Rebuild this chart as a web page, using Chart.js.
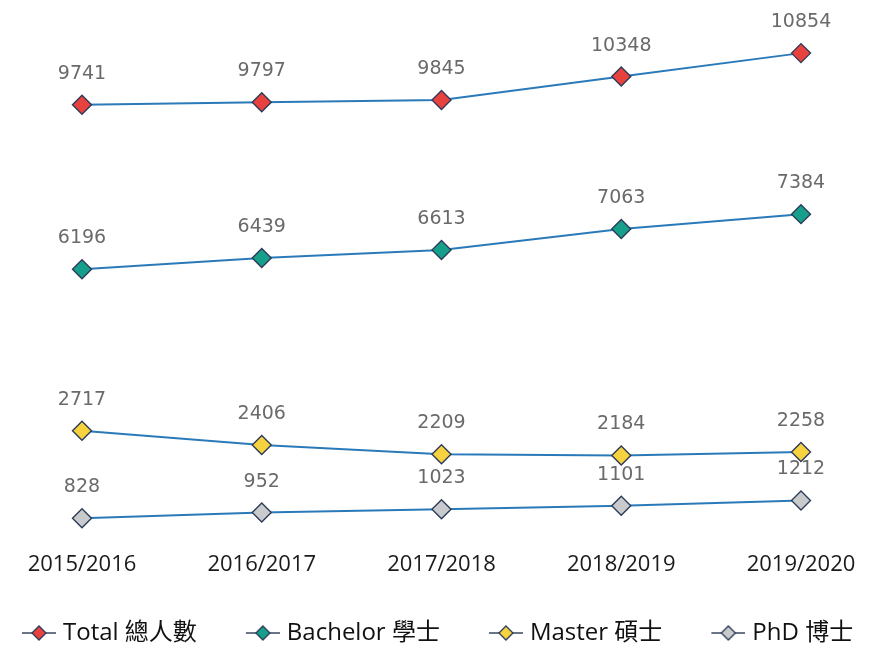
<!DOCTYPE html>
<html>
<head>
<meta charset="utf-8">
<script src="https://cdn.jsdelivr.net/npm/chart.js@4/dist/chart.umd.min.js"></script>
<style>
  html, body { margin: 0; padding: 0; background: #fff; }
  #wrap { width: 882px; height: 650px; }
</style>
</head>
<body>
<div id="wrap"><canvas id="chart"></canvas></div>
<script>
const years = ["2015/2016", "2016/2017", "2017/2018", "2018/2019", "2019/2020"];
const total = [9741, 9797, 9845, 10348, 10854];
const bachelor = [6196, 6439, 6613, 7063, 7384];
const master = [2717, 2406, 2209, 2184, 2258];
const phd = [828, 952, 1023, 1101, 1212];

const seriesNames = ["Total 總人數", "Bachelor 學士", "Master 碩士", "PhD 博士"];
const fills = ["#e8423f", "#16a08b", "#f6d23f", "#c9cacc"];

const lineColor = "#2a7aba";
const edgeColor = "#2c3a57";

// legend icon: short line with a diamond, kept at the right end of the box
const legendBox = 30;
function legendIcon(fill) {
  const c = document.createElement("canvas");
  c.width = legendBox + 10; c.height = 18;
  const g = c.getContext("2d");
  const x0 = c.width - 34;
  g.strokeStyle = "#3a4763";
  g.lineWidth = 1.6;
  g.beginPath(); g.moveTo(x0, 9); g.lineTo(x0 + 34, 9); g.stroke();
  g.beginPath();
  g.moveTo(x0 + 17, 2); g.lineTo(x0 + 24, 9); g.lineTo(x0 + 17, 16); g.lineTo(x0 + 10, 9); g.closePath();
  g.fillStyle = fill; g.fill();
  g.strokeStyle = edgeColor; g.lineWidth = 1.3; g.stroke();
  return c;
}

const valueLabels = {
  id: "valueLabels",
  afterDatasetsDraw(chart) {
    const ctx = chart.ctx;
    ctx.save();
    ctx.font = '19px "DejaVu Sans"';
    ctx.fillStyle = "#6a6a6a";
    ctx.textAlign = "center";
    ctx.textBaseline = "middle";
    chart.data.datasets.forEach((ds, i) => {
      chart.getDatasetMeta(i).data.forEach((pt, j) => {
        ctx.fillText(String(ds.data[j]), pt.x, pt.y - 31);
      });
    });
    ctx.restore();
  }
};

function makeSet(label, data, fill) {
  return {
    label,
    data,
    borderColor: lineColor,
    borderWidth: 2,
    pointStyle: "rectRot",
    pointRadius: 9.5,
    pointHoverRadius: 9.5,
    pointBackgroundColor: fill,
    pointBorderColor: edgeColor,
    pointBorderWidth: 1.4,
    fill: false,
    tension: 0
  };
}

const datasets = [
  makeSet(seriesNames[0], total, fills[0]),
  makeSet(seriesNames[1], bachelor, fills[1]),
  makeSet(seriesNames[2], master, fills[2]),
  makeSet(seriesNames[3], phd, fills[3])
];

const icons = fills.map(legendIcon);

// negative side padding widens the legend row; the x scale keeps its own inset
const sidePad = -27;

new Chart(document.getElementById("chart"), {
  type: "line",
  data: { labels: years, datasets },
  options: {
    responsive: true,
    maintainAspectRatio: false,
    animation: false,
    layout: { padding: { left: sidePad, right: sidePad, top: 2, bottom: -5 } },
    scales: {
      x: {
        offset: false,
        grid: { display: false, drawTicks: false },
        border: { display: false },
        afterFit(scale) {
          scale.paddingLeft = 82;
          scale.paddingRight = 81;
          scale.height = 33;
        },
        ticks: {
          padding: 12,
          color: "#1a1a1a",
          font: { family: '"Open Sans", "Noto Sans"', size: 22 },
          maxRotation: 0
        }
      },
      y: {
        display: false,
        min: 361,
        max: 11764
      }
    },
    plugins: {
      tooltip: { enabled: false },
      legend: {
        position: "bottom",
        align: "start",
        labels: {
          usePointStyle: true,
          pointStyleWidth: legendBox,
          padding: 48,
          color: "#111",
          font: { family: '"Open Sans", "Noto Sans CJK TC"', size: 24 },
          generateLabels(chart) {
            const base = Chart.defaults.plugins.legend.labels.generateLabels(chart);
            return base.map((item, i) => Object.assign(item, { pointStyle: icons[i] }));
          }
        }
      }
    }
  },
  plugins: [valueLabels]
});
</script>
</body>
</html>
